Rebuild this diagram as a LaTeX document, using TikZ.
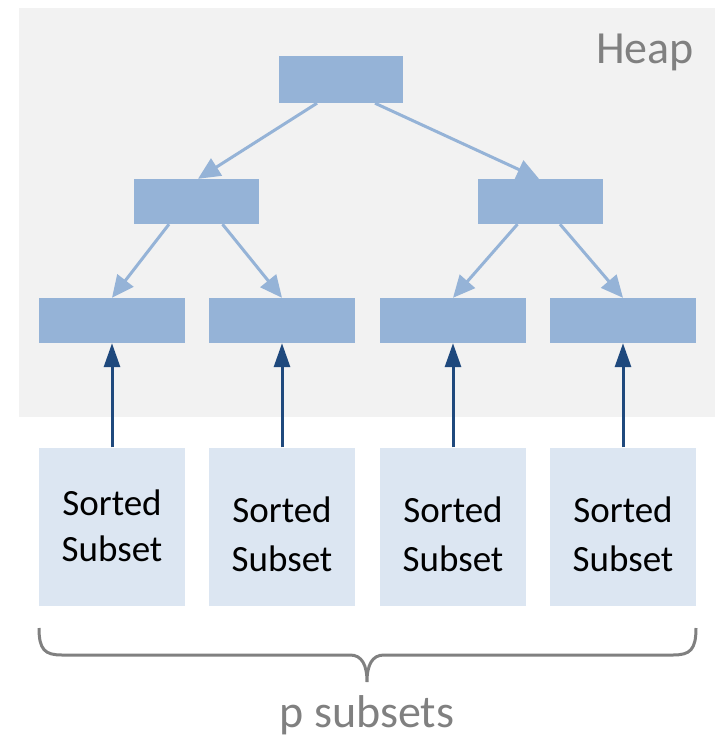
\documentclass[tikz,border=0pt]{standalone}
\usepackage{fontspec}
\setmainfont{Carlito}
\usetikzlibrary{arrows.meta,calc}

\definecolor{heapbg}{HTML}{F2F2F2}
\definecolor{heapnode}{HTML}{95B3D7}
\definecolor{subsetfill}{HTML}{DCE6F2}
\definecolor{feedarrow}{HTML}{1F497D}
\definecolor{labelgray}{HTML}{808080}

\tikzset{
  heapbox/.style={rectangle, fill=heapnode, inner sep=0pt, minimum width=#1, minimum height=45pt},
  subsetbox/.style={rectangle, fill=subsetfill, inner sep=0pt, minimum width=146pt, minimum height=158pt},
  % anchor=base of a two-line node sits on the baseline of its last line
  subsettext/.style={align=center, inner sep=0pt, anchor=base, font=\fontsize{37pt}{#1}\selectfont},
  treearrow/.style={draw=heapnode, line width=3pt, -{Triangle[length=22pt, width=20pt]}},
  feedline/.style={draw=feedarrow, line width=3pt, -{Triangle[length=24pt, width=16pt]}},
  bigtext/.style={text=labelgray, inner sep=0pt, font=\fontsize{46pt}{55pt}\selectfont},
  bracestyle/.style={draw=labelgray, line width=3pt}
}

\begin{document}
\begin{tikzpicture}[x=1pt, y=-1pt]
  \useasboundingbox (0,0) rectangle (715,737);

  % heap area
  \fill[heapbg] (19,8) rectangle (715,417);
  \node[bigtext, anchor=base east] (heaplabel) at (694,63) {Heap};

  % heap tree
  \node[heapbox=124pt, minimum height=47pt] (root) at (341,79.5) {};
  \node[heapbox=125pt] (midL) at (196.5,201.5) {};
  \node[heapbox=125pt] (midR) at (540.5,201.5) {};
  \node[heapbox=146pt] (leaf1) at (112,320.5) {};
  \node[heapbox=146pt] (leaf2) at (282,320.5) {};
  \node[heapbox=146pt] (leaf3) at (453,320.5) {};
  \node[heapbox=146pt] (leaf4) at (623,320.5) {};

  \draw[treearrow] ($(root.south)+(-24,0)$) -- ($(midL.north)+(1.5,0)$);
  \draw[treearrow] ($(root.south)+(34,0)$) -- ($(midR.north)+(-1.5,0)$);
  \draw[treearrow] ($(midL.south)+(-27.5,0)$) -- (leaf1.north);
  \draw[treearrow] ($(midL.south)+(26,0)$) -- (leaf2.north);
  \draw[treearrow] ($(midR.south)+(-23,0)$) -- (leaf3.north);
  \draw[treearrow] ($(midR.south)+(19.5,0)$) -- (leaf4.north);

  % sorted subsets
  \node[subsetbox] (sub1) at (112,526.5) {};
  \node[subsetbox] (sub2) at (282,526.5) {};
  \node[subsetbox] (sub3) at (453,526.5) {};
  \node[subsetbox] (sub4) at (623,526.5) {};

  \node[subsettext=46pt] (txt1) at (112,561) {Sorted\\Subset};
  \node[subsettext=49pt] (txt2) at (282,571) {Sorted\\Subset};
  \node[subsettext=49pt] (txt3) at (453,571) {Sorted\\Subset};
  \node[subsettext=49pt] (txt4) at (623,571) {Sorted\\Subset};

  \draw[feedline] (sub1.north) -- (leaf1.south);
  \draw[feedline] (sub2.north) -- (leaf2.south);
  \draw[feedline] (sub3.north) -- (leaf3.south);
  \draw[feedline] (sub4.north) -- (leaf4.south);

  % brace under the subsets
  \coordinate (braceL) at (39,628);
  \coordinate (braceR) at (696,628);
  \coordinate (braceTip) at (367,682);
  \draw[bracestyle] (braceL) .. controls (39,650) and (45,655) .. (62,655)
    -- (350,655) .. controls (362,655) and (367,665) .. (braceTip)
    .. controls (367,665) and (372,655) .. (384,655)
    -- (673,655) .. controls (690,655) and (696,650) .. (braceR);
  \node[bigtext, anchor=base] (plabel) at (367,727) {p subsets};
\end{tikzpicture}
\end{document}
